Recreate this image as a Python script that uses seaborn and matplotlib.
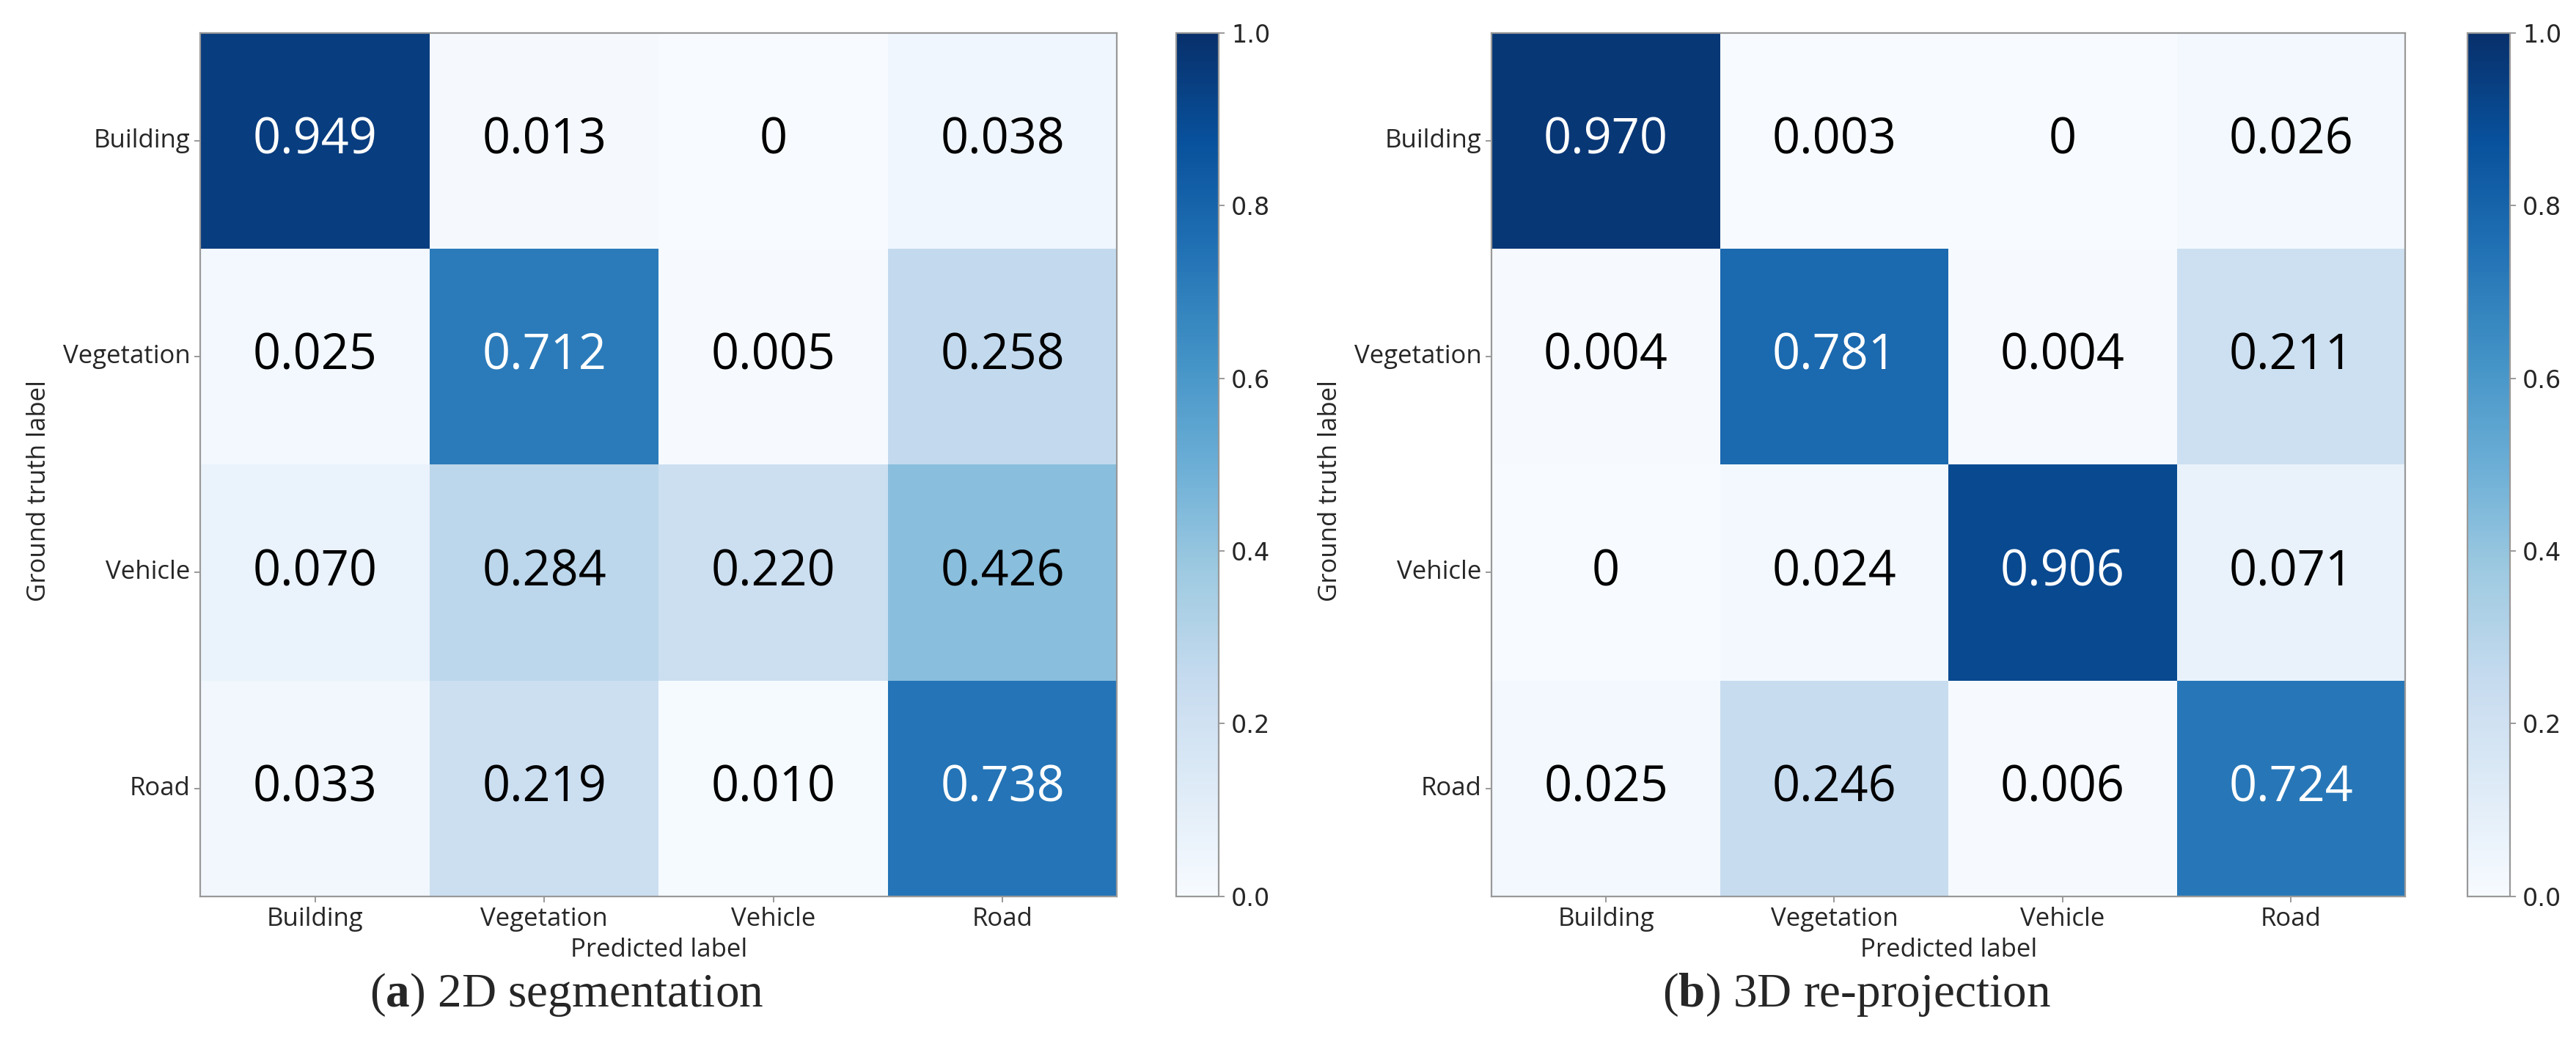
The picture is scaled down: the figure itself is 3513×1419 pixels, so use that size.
import numpy as np
import pandas as pd
import matplotlib
matplotlib.use("Agg")
import matplotlib.pyplot as plt
import seaborn as sns

classes = ["Building", "Vegetation", "Vehicle", "Road"]
cm_2d = [[0.949, 0.013, 0.0, 0.038],
         [0.025, 0.712, 0.005, 0.258],
         [0.070, 0.284, 0.220, 0.426],
         [0.033, 0.219, 0.010, 0.738]]
cm_3d = [[0.970, 0.003, 0.0, 0.026],
         [0.004, 0.781, 0.004, 0.211],
         [0.0, 0.024, 0.906, 0.071],
         [0.025, 0.246, 0.006, 0.724]]
captions = [("a", "2D segmentation"), ("b", "3D re-projection")]
cbar_ticks = [0.0, 0.2, 0.4, 0.6, 0.8, 1.0]

sns.set_style("white")
plt.rcParams["font.family"] = ["Open Sans", "DejaVu Sans"]
plt.rcParams["mathtext.fontset"] = "custom"
plt.rcParams["mathtext.rm"] = "Liberation Serif"
plt.rcParams["mathtext.bf"] = "Liberation Serif:bold"

W, H = 1568.0, 633.0
fig = plt.figure(figsize=(17.565, 7.095), dpi=200)

panels = [
    dict(data=cm_2d, ax=(122, 20, 680, 545), cb=(716, 742), cap_x=345),
    dict(data=cm_3d, ax=(908, 20, 1464, 545), cb=(1502, 1528), cap_x=1130),
]

def rect(x0, y0, x1, y1):
    return [x0 / W, 1 - y1 / H, (x1 - x0) / W, (y1 - y0) / H]

for p, (letter, cap) in zip(panels, captions):
    x0, y0, x1, y1 = p["ax"]
    ax = fig.add_axes(rect(x0, y0, x1, y1))
    cax = fig.add_axes(rect(p["cb"][0], y0, p["cb"][1], y1))
    df = pd.DataFrame(p["data"], index=classes, columns=classes)
    labels = np.array([["0" if v == 0 else f"{v:.3f}" for v in row] for row in p["data"]])
    sns.heatmap(df, ax=ax, cbar_ax=cax, cmap="Blues", vmin=0, vmax=1,
                annot=labels, fmt="", linewidths=0,
                annot_kws=dict(fontsize=24, family="Open Sans"))
    for t in ax.texts:
        c = matplotlib.colors.to_rgb(t.get_color())
        if sum(c) < 1.5:
            t.set_color("black")
    ax.tick_params(axis="both", which="both", length=3, width=0.6, color="#888888",
                   labelsize=12.5, pad=2)
    ax.set_yticklabels(classes, rotation=0, fontsize=12.5)
    ax.set_xticklabels(classes, rotation=0, fontsize=12.5)
    ax.tick_params(left=True, bottom=True)
    for s in ax.spines.values():
        s.set_visible(True)
        s.set_color("#999999")
        s.set_linewidth(0.8)
    ax.set_xlabel("Predicted label", fontsize=12.5)
    ax.set_ylabel("Ground truth label", fontsize=12.5)
    ax.xaxis.set_label_coords(0.5, -0.048)
    ax.yaxis.set_label_coords(-0.163, 0.47)
    cax.set_yticks(cbar_ticks)
    cax.set_yticklabels([f"{t:.1f}" for t in cbar_ticks], family="DejaVu Sans", fontsize=12)
    cax.tick_params(length=3, width=0.6, color="#888888", pad=3)
    cb = ax.collections[0].colorbar
    cb.outline.set_edgecolor("#999999")
    cb.outline.set_linewidth(0.8)
    fig.text(p["cap_x"] / W, 1 - 605 / H, "(" + r"$\mathbf{" + letter + r"}$" + ") " + cap,
             ha="center", va="center", fontsize=23.5, family="Liberation Serif")

fig.savefig("out.png", dpi=200, facecolor="white")
